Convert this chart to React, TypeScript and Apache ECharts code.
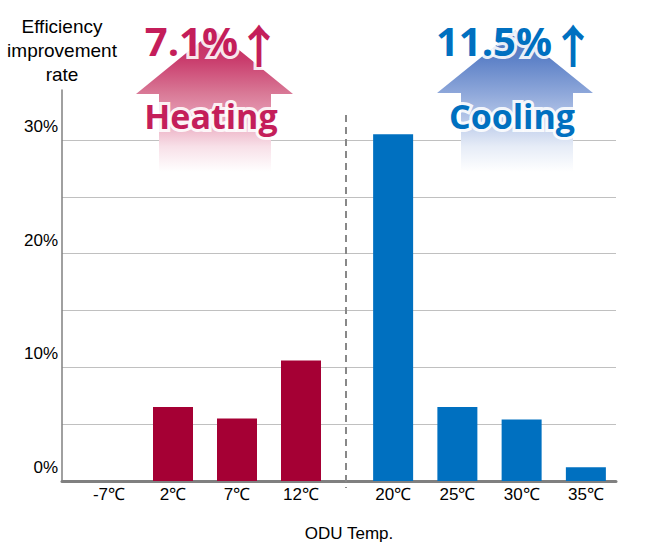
import React, { useEffect, useRef } from "react";
import * as echarts from "echarts";

const heatingCats = ["-7℃", "2℃", "7℃", "12℃"];
const heatingValues = [0, 6.5, 5.5, 10.6];
const coolingCats = ["20℃", "25℃", "30℃", "35℃"];
const coolingValues = [30.5, 6.5, 5.4, 1.2];
const yMax = 34.4;
const yStep = 5;
const heatingRate = "7.1%";
const coolingRate = "11.5%";
const heatingLabel = "Heating";
const coolingLabel = "Cooling";
const yName = "Efficiency\nimprovement\nrate";
const xName = "ODU Temp.";

const RED = "#a50034";
const BLUE = "#0070c0";
const RED_TXT = "#c41e5a";
const AXIS_FONT = "'Liberation Sans', Arial, sans-serif";
const BIG_FONT = "'Open Sans', 'Noto Sans', sans-serif";
const ARROW_FONT = "'Noto Sans CJK JP', sans-serif";

function glowText(x: number, y: number, text: string, size: number, color: string, align: string, family = BIG_FONT, weight = "bold") {
  const font = `${weight} ${size}px ${family}`;
  return [
    {
      type: "text", x, y, z: 20,
      style: { text, font, fill: "#fff", stroke: "#fff", lineWidth: 6, align, verticalAlign: "middle", opacity: 0.9 },
    },
    {
      type: "text", x, y, z: 21,
      style: { text, font, fill: color, align, verticalAlign: "middle" },
    },
  ];
}

export default function App() {
  const ref = useRef<HTMLDivElement>(null);
  useEffect(() => {
    if (!ref.current) return;
    const chart = echarts.init(ref.current, undefined, { renderer: "svg" });
    const top = 90, bottom = 70;
    const redGrad = new echarts.graphic.LinearGradient(0, 0, 0, 1, [
      { offset: 0, color: "#c42d62" },
      { offset: 0.2, color: "#c93a6b" },
      { offset: 0.45, color: "#d97a97" },
      { offset: 0.6, color: "#e69ab3" },
      { offset: 0.82, color: "#f8e0e8" },
      { offset: 1, color: "#ffffff" },
    ]);
    const blueGrad = new echarts.graphic.LinearGradient(0, 0, 0, 1, [
      { offset: 0, color: "#4f75c0" },
      { offset: 0.2, color: "#5d81c7" },
      { offset: 0.45, color: "#8fa8da" },
      { offset: 0.6, color: "#b0c2e6" },
      { offset: 0.82, color: "#e6ecf7" },
      { offset: 1, color: "#ffffff" },
    ]);
    chart.setOption({
      animation: false,
      backgroundColor: "#ffffff",
      grid: [
        { left: 62, right: 43, top, bottom },
        { left: 77, width: 256, top, bottom },
        { left: 361, width: 257, top, bottom },
      ],
      xAxis: [
        {
          gridIndex: 0, type: "value", min: 0, max: 1,
          axisLine: { show: true, lineStyle: { color: "#808080", width: 3 } },
          axisTick: { show: false }, axisLabel: { show: false }, splitLine: { show: false },
          name: xName, nameLocation: "middle", nameGap: 44,
          nameTextStyle: { fontFamily: AXIS_FONT, fontSize: 17, color: "#000", padding: [0, 0, 0, 20] },
        },
        {
          gridIndex: 1, type: "category", data: heatingCats,
          axisLine: { show: false }, axisTick: { show: false },
          axisLabel: { interval: 0, margin: 5, fontFamily: AXIS_FONT, fontSize: 17, color: "#000" },
        },
        {
          gridIndex: 2, type: "category", data: coolingCats,
          axisLine: { show: false }, axisTick: { show: false },
          axisLabel: { interval: 0, margin: 5, fontFamily: AXIS_FONT, fontSize: 17, color: "#000" },
        },
      ],
      yAxis: [
        {
          gridIndex: 0, type: "value", min: 0, max: yMax, interval: yStep,
          axisLine: { show: true, lineStyle: { color: "#808080", width: 1.5 } },
          axisTick: { show: false },
          splitLine: { show: true, showMaxLine: false, showMinLine: false, lineStyle: { color: "#c0c0c0", width: 1 } },
          axisLabel: {
            showMaxLabel: false,
            margin: 4,
            fontFamily: AXIS_FONT, fontSize: 17, color: "#000",
            verticalAlign: "bottom", padding: [0, 0, 5, 0],
            formatter: (v: number) => (Math.round(v) % 10 === 0 && v <= 30 ? `${v}%` : ""),
          },
          name: yName, nameLocation: "end", nameGap: 4,
          nameTextStyle: { fontFamily: AXIS_FONT, fontSize: 19, lineHeight: 24, color: "#000", align: "center", verticalAlign: "bottom" },
        },
        { gridIndex: 1, type: "value", min: 0, max: yMax, show: false },
        { gridIndex: 2, type: "value", min: 0, max: yMax, show: false },
      ],
      series: [
        { type: "bar", xAxisIndex: 1, yAxisIndex: 1, data: heatingValues, barWidth: 40, itemStyle: { color: RED } },
        { type: "bar", xAxisIndex: 2, yAxisIndex: 2, data: coolingValues, barWidth: 40, itemStyle: { color: BLUE } },
      ],
      graphic: [
        {
          type: "line", z: 5,
          shape: { x1: 346, y1: 115, x2: 346, y2: 488 },
          style: { stroke: "#888888", lineWidth: 2, lineDash: [7, 5] },
        },
        {
          type: "polygon", z: 10,
          shape: { points: [[214.5, 30], [293, 94], [271, 94], [271, 172], [159, 172], [159, 94], [136, 94]] },
          style: { fill: redGrad },
        },
        {
          type: "polygon", z: 10,
          shape: { points: [[515, 30], [593, 93], [573, 93], [573, 172], [461, 172], [461, 93], [437, 93]] },
          style: { fill: blueGrad },
        },
        ...glowText(238, 40, heatingRate, 40, RED_TXT, "right"),
        ...glowText(236, 43, "↑", 46, RED_TXT, "left", ARROW_FONT, "bold"),
        ...glowText(211, 116, heatingLabel, 34, RED_TXT, "center"),
        ...glowText(552, 40, coolingRate, 40, BLUE, "right"),
        ...glowText(550, 43, "↑", 46, BLUE, "left", ARROW_FONT, "bold"),
        ...glowText(512, 116, coolingLabel, 34, BLUE, "center"),
      ],
    });
    return () => chart.dispose();
  }, []);
  return (
    <div
      ref={ref}
      style={{ position: "fixed", left: 0, top: 0, width: 659, height: 551 }}
    />
  );
}
